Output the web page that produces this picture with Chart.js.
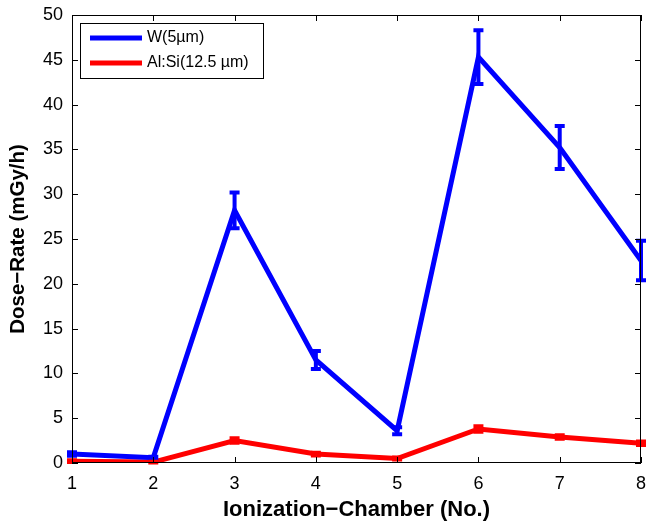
<!DOCTYPE html>
<html><head><meta charset="utf-8">
<script src="https://cdn.jsdelivr.net/npm/chart.js@4"></script>
<style>html,body{margin:0;padding:0;background:#fff}#wrap{width:647px;height:523px}</style>
</head><body><div id="wrap"><canvas id="c" width="647" height="523"></canvas></div>
<script>
const chambers = [1, 2, 3, 4, 5, 6, 7, 8];
const wDose = [1.0, 0.6, 28.2, 11.5, 3.6, 45.3, 35.2, 22.6];
const wErr = [0.2, 0.1, 2.0, 1.0, 0.4, 3.0, 2.4, 2.2];
const alDose = [0.2, 0.1, 2.5, 1.0, 0.5, 3.8, 2.9, 2.2];
const alErr = [0.1, 0.05, 0.25, 0.15, 0.1, 0.3, 0.2, 0.2];
const yTicks = [0, 5, 10, 15, 20, 25, 30, 35, 40, 45, 50];
const seriesLabels = ['W(5\u00b5m)', 'Al:Si(12.5 \u00b5m)'];
const FONT = '"Liberation Sans", Arial, Helvetica, sans-serif';

const errPlugin = {
  id: 'err',
  afterDatasetsDraw(chart) {
    const ctx = chart.ctx, xs = chart.scales.x, ys = chart.scales.y;
    chart.data.datasets.forEach(ds => {
      ctx.save();
      ctx.strokeStyle = ds.borderColor; ctx.lineWidth = 4; ctx.lineCap = 'butt';
      ds.data.forEach((p, i) => {
        const e = ds.errs[i];
        const x = xs.getPixelForValue(p.x);
        const yt = ys.getPixelForValue(p.y + e), yb = ys.getPixelForValue(p.y - e);
        const hw = 5;
        ctx.beginPath();
        ctx.moveTo(x, yt); ctx.lineTo(x, yb);
        ctx.moveTo(x - hw, yt); ctx.lineTo(x + hw, yt);
        ctx.moveTo(x - hw, yb); ctx.lineTo(x + hw, yb);
        ctx.stroke();
      });
      ctx.restore();
    });
  }
};

const framePlugin = {
  id: 'frame',
  afterDraw(chart) {
    const ctx = chart.ctx, a = chart.chartArea, xs = chart.scales.x, ys = chart.scales.y;
    ctx.save();
    ctx.strokeStyle = '#000'; ctx.lineWidth = 1;
    ctx.strokeRect(a.left + 0.5, a.top + 0.5, a.right - a.left - 1, a.bottom - a.top - 1);
    const tl = 6;
    ctx.beginPath();
    chambers.forEach(v => {
      const x = Math.round(xs.getPixelForValue(v)) + 0.5;
      ctx.moveTo(x, a.bottom); ctx.lineTo(x, a.bottom - tl);
      ctx.moveTo(x, a.top); ctx.lineTo(x, a.top + tl);
    });
    yTicks.forEach(v => {
      const y = Math.round(ys.getPixelForValue(v)) + 0.5;
      ctx.moveTo(a.left, y); ctx.lineTo(a.left + tl, y);
      ctx.moveTo(a.right, y); ctx.lineTo(a.right - tl, y);
    });
    ctx.stroke();
    // legend
    const lx = 80, ly = 23, lw = 183, lh = 55;
    ctx.fillStyle = '#fff';
    ctx.fillRect(lx, ly, lw, lh);
    ctx.strokeRect(lx + 0.5, ly + 0.5, lw, lh);
    chart.data.datasets.forEach((ds, i) => {
      const y = ly + 15 + i * 25;
      ctx.strokeStyle = ds.borderColor; ctx.lineWidth = 5;
      ctx.beginPath(); ctx.moveTo(lx + 10, y); ctx.lineTo(lx + 62, y); ctx.stroke();
      ctx.fillStyle = '#000'; ctx.font = '16px ' + FONT; ctx.textBaseline = 'middle';
      ctx.fillText(ds.label, lx + 67, y);
    });
    ctx.restore();
  }
};

const noPad = s => { s.paddingLeft = 0; s.paddingRight = 0; s.paddingTop = 0; s.paddingBottom = 0; };

new Chart(document.getElementById('c'), {
  type: 'line',
  data: {
    datasets: [
      { label: seriesLabels[0], data: chambers.map((c, i) => ({x: c, y: wDose[i]})), errs: wErr,
        borderColor: '#0000ff', borderWidth: 5, pointRadius: 0, tension: 0, fill: false },
      { label: seriesLabels[1], data: chambers.map((c, i) => ({x: c, y: alDose[i]})), errs: alErr,
        borderColor: '#ff0000', borderWidth: 5, pointRadius: 0, tension: 0, fill: false }
    ]
  },
  options: {
    responsive: false, animation: false, devicePixelRatio: 1,
    layout: { padding: { top: 15, right: 6, left: 6, bottom: 0 } },
    plugins: { legend: { display: false }, tooltip: { enabled: false } },
    scales: {
      x: { type: 'linear', min: 1, max: 8,
        afterBuildTicks: s => { s.ticks = chambers.map(v => ({value: v})); },
        grid: { display: false, drawTicks: false }, border: { display: false },
        ticks: { color: '#000', font: { family: FONT, size: 18 }, padding: 10, maxRotation: 0 },
        title: { display: true, text: 'Ionization\u2212Chamber (No.)', color: '#000',
          font: { family: FONT, size: 22, weight: 'bold' }, padding: { top: 0, bottom: 0 } },
        afterFit: s => { s.height = 60; noPad(s); } },
      y: { min: 0, max: 50,
        afterBuildTicks: s => { s.ticks = yTicks.map(v => ({value: v})); },
        grid: { display: false, drawTicks: false }, border: { display: false },
        ticks: { color: '#000', font: { family: FONT, size: 18 }, padding: 9 },
        title: { display: true, text: 'Dose\u2212Rate (mGy/h)', color: '#000',
          font: { family: FONT, size: 20.5, weight: 'bold' }, padding: { top: 0, bottom: 3 } },
        afterFit: s => { s.width = 66; noPad(s); } }
    }
  },
  plugins: [errPlugin, framePlugin]
});
</script></body></html>
